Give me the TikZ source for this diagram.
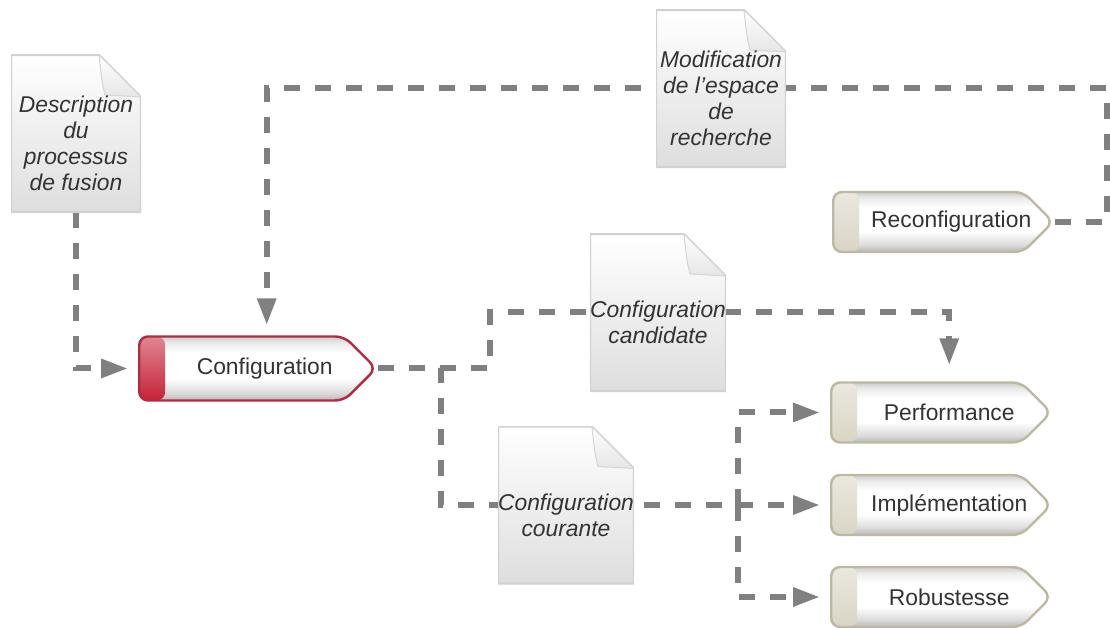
\documentclass[tikz,border=0pt]{standalone}
\usepackage{fontspec}
\setmainfont{Liberation Sans}
\usetikzlibrary{arrows.meta,shapes.symbols,backgrounds}
\definecolor{trait}{HTML}{808080}
\definecolor{texte}{HTML}{333333}
\definecolor{cadreRouge}{HTML}{B52A40}
\definecolor{capRouge}{HTML}{C62238}
\definecolor{cadreBeige}{HTML}{BCB8A2}
\definecolor{capBeige}{HTML}{D9D5C5}
\pgfdeclareverticalshading{verre}{100bp}{color(0bp)=(black!28); color(25bp)=(black!28);
  color(31bp)=(black!14); color(42bp)=(white); color(62bp)=(white);
  color(70bp)=(black!8); color(75bp)=(black!20); color(100bp)=(black!20)}
\begin{document}
\begin{tikzpicture}[
        fiche/.style={
            minimum width=2.6cm,
            minimum height=3.54cm,
            inner sep=0pt,
            align=center,
            text=texte,
            font=\itshape\fontsize{13}{14.7}\selectfont,
            path picture={
                \path (path picture bounding box.north west) coordinate (hg)
                      (path picture bounding box.north east) coordinate (hd)
                      ([yshift=0.4cm]path picture bounding box.south east) coordinate (bd)
                      ([yshift=0.4cm]path picture bounding box.south west) coordinate (bg);
                \shade[top color=white, bottom color=black!13, draw=black!18, line width=1.2pt]
                    (bg) -- (hg) -- ([xshift=-0.84cm]hd) -- ([yshift=-0.84cm]hd) -- (bd) -- cycle;
                \shade[top color=white, bottom color=black!10, draw=black!16, line width=0.6pt]
                    ([xshift=-0.84cm]hd) .. controls ([xshift=-0.78cm,yshift=-0.55cm]hd)
                    .. ([xshift=-0.72cm,yshift=-0.8cm]hd) -- ([yshift=-0.84cm]hd) -- cycle;
            }
        },
        etape/.style 2 args={
            shape=signal,
            signal to=east,
            signal pointer angle=90,
            minimum width=4.4cm,
            minimum height=1.2cm,
            rounded corners=5pt,
            shade,
            shading=verre,
            draw=#1,
            line width=1.4pt,
            text=texte,
            font=\fontsize{13}{15}\selectfont,
            execute at begin node=\hspace*{0.46cm},
            execute at end node=\hspace*{-0.46cm},
            anchor=west,
            path picture={
                \shade[top color=#2!55!white, middle color=#2!80!white, bottom color=#2]
                    (path picture bounding box.south west)
                    rectangle ([xshift=0.52cm]path picture bounding box.north west);
            }
        },
        lien/.style={
            draw=trait,
            line width=0.12cm,
            dash pattern=on 0.32cm off 0.3cm
        },
        fleche/.style={
            lien,
            -{Triangle[length=0.54cm, width=0.36cm]},
            shorten >=0.2cm
        }
    ]
    \useasboundingbox (0,0) rectangle (22.2,12.56);
    % Fiches
    \node[fiche] (desc) at (1.52,9.69) {Description\\du\\processus\\de fusion};
    \node[fiche] (modif) at (14.42,10.59) {Modification\\de l'espace\\de\\recherche};
    \node[fiche] (cand) at (13.16,6.11) {Configuration\\candidate};
    \node[fiche] (cour) at (11.32,2.26) {Configuration\\courante};
    % Etapes
    \node[etape={cadreRouge}{capRouge}, minimum width=4.74cm, minimum height=1.28cm]
        (config) at (2.76,5.19) {Configuration};
    \node[etape={cadreBeige}{capBeige}] (reconf) at (16.64,8.12) {Reconfiguration};
    \node[etape={cadreBeige}{capBeige}] (perf) at (16.6,4.31) {Performance};
    \node[etape={cadreBeige}{capBeige}] (impl) at (16.6,2.46) {Implémentation};
    \node[etape={cadreBeige}{capBeige}] (rob) at (16.6,0.62) {Robustesse};
    % Liens, derriere les fiches
    \begin{pgfonlayer}{background}
        \draw[fleche] ([yshift=0.4cm]desc.south) |- (config.west);
        \draw[fleche] (config.east) -- ++(1.26,0) |- (impl.west);
        \draw[fleche, shorten >=0.32cm] (config.east) -- ++(2.24,0)
            |- ([yshift=0.2cm]cand.center) -| ([xshift=0.46cm]perf.north);
        \coordinate (bus) at ([xshift=-1.84cm]impl.west);
        \draw[fleche] (bus) |- (perf.west);
        \draw[fleche] (bus) |- (rob.west);
        \draw[fleche] (reconf.east) -- ++(1.04,0)
            |- ([yshift=0.2cm]modif.center) -| ([xshift=0.5cm]config.north);
    \end{pgfonlayer}
\end{tikzpicture}
\end{document}
